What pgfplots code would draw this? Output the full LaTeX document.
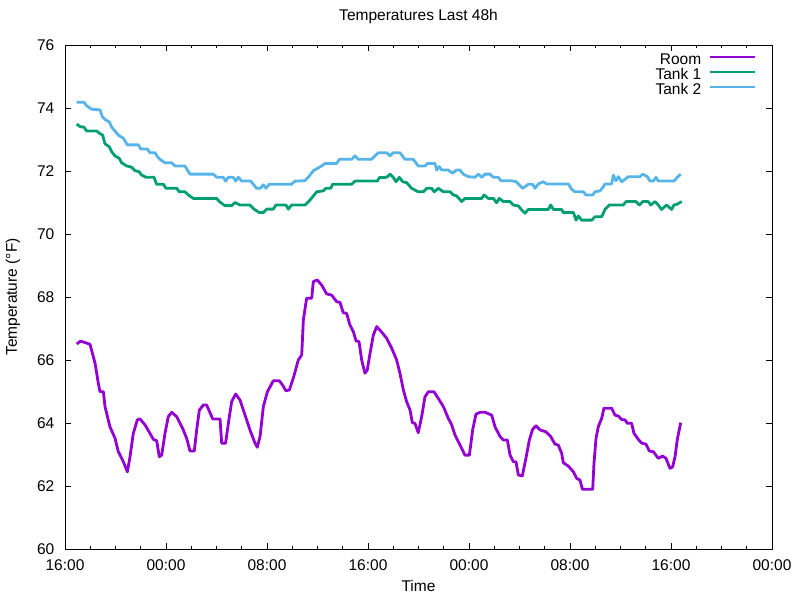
\documentclass[border=0pt]{standalone}
\usepackage{fontspec}
\setmainfont{Liberation Sans}
\usepackage{pgfplots}
\pgfplotsset{compat=1.18}
\definecolor{roomc}{HTML}{9400D3}
\definecolor{tankone}{HTML}{009E73}
\definecolor{tanktwo}{HTML}{56B4E9}
\begin{document}
\begin{tikzpicture}[font=\fontsize{15.5pt}{18pt}\selectfont]
\begin{axis}[
  scale only axis, width=707pt, height=504pt,
  at={(0,0)}, anchor=south west,
  xmin=0, xmax=56, ymin=60, ymax=76,
  xtick={0,8,...,56},
  xticklabels={16:00,00:00,08:00,16:00,00:00,08:00,16:00,00:00},
  minor x tick num=3,
  ytick={60,62,...,76},
  tick align=inside,
  major tick length=6pt, minor tick length=3pt,
  every tick/.style={black, line width=0.8pt},
  axis line style={black, line width=0.9pt},
  /pgf/number format/assume math mode=true,
  xticklabel style={anchor=base, yshift=-21pt, inner sep=0pt},
  yticklabel style={anchor=east, inner sep=0pt, xshift=-10.5pt},
  title={Temperatures Last 48h},
  title style={at={(axis description cs:0.5,1)}, anchor=base, yshift=18.3pt, inner sep=0pt},
  xlabel={Time},
  xlabel style={at={(axis description cs:0.5,0)}, anchor=base, yshift=-42.5pt, inner sep=0pt},
  ylabel={Temperature (°F)},
  ylabel style={at={(axis description cs:-0.0736,0.5)}, anchor=center, inner sep=0pt},
  legend plot pos=right,
  legend cell align=right,
  legend image code/.code={\draw[#1, line width=2.8pt] (0pt,3.5pt) -- (45pt,3.5pt);},
  legend style={draw=none, fill=none, inner sep=0pt, outer sep=0pt,
    at={(rel axis cs:1,1)}, anchor=north east, xshift=-16pt, yshift=-8pt,
    column sep=7pt, row sep=0pt,
    nodes={inner sep=0pt, text height=11.2pt, text depth=3.8pt}},
  line join=round,
]
\addplot[roomc, line width=2.8pt] coordinates {
(0.93,66.51)(1.24,66.6)(1.98,66.5)(2.38,65.9)(2.64,65.26)(2.77,65.0)(3.04,64.99)(3.17,64.52)(3.56,63.88)(3.96,63.52)(4.22,63.09)(4.62,62.77)(4.94,62.45)(5.15,62.93)(5.41,63.67)(5.73,64.1)(5.94,64.13)(6.34,63.94)(6.73,63.67)(7.0,63.48)(7.26,63.44)(7.47,62.93)(7.66,62.98)(7.92,63.67)(8.18,64.2)(8.45,64.34)(8.85,64.2)(9.37,63.78)(9.64,63.51)(9.9,63.11)(10.24,63.11)(10.43,63.78)(10.64,64.41)(10.96,64.57)(11.22,64.57)(11.7,64.13)(12.28,64.13)(12.41,63.36)(12.72,63.36)(12.94,63.99)(13.2,64.68)(13.52,64.92)(13.86,64.73)(14.26,64.25)(14.65,63.78)(15.05,63.36)(15.23,63.23)(15.45,63.57)(15.71,64.52)(16.03,64.99)(16.5,65.34)(16.98,65.34)(17.24,65.2)(17.5,65.02)(17.77,65.05)(18.08,65.42)(18.48,66.0)(18.75,66.16)(18.88,67.27)(19.14,67.96)(19.54,67.96)(19.67,68.49)(19.98,68.54)(20.33,68.38)(20.72,68.1)(21.12,68.06)(21.52,67.85)(21.78,67.83)(22.04,67.5)(22.31,67.48)(22.57,67.11)(22.84,66.9)(23.05,66.61)(23.29,66.58)(23.5,66.0)(23.76,65.58)(23.94,65.68)(24.16,66.21)(24.42,66.79)(24.69,67.06)(24.95,66.95)(25.48,66.69)(25.88,66.37)(26.27,66.0)(26.53,65.58)(26.8,65.05)(27.06,64.68)(27.33,64.41)(27.51,64.01)(27.72,63.99)(27.98,63.69)(28.25,64.2)(28.51,64.83)(28.78,64.99)(29.23,64.99)(29.57,64.78)(29.97,64.52)(30.36,64.15)(30.63,63.94)(30.89,63.62)(31.29,63.3)(31.68,62.98)(32.03,62.98)(32.29,63.78)(32.55,64.28)(32.87,64.34)(33.27,64.34)(33.8,64.25)(34.06,63.88)(34.46,63.57)(34.72,63.46)(35.04,63.46)(35.25,62.98)(35.51,62.77)(35.72,62.77)(35.91,62.35)(36.22,62.32)(36.51,62.88)(36.78,63.46)(37.04,63.8)(37.31,63.91)(37.62,63.78)(38.1,63.72)(38.47,63.57)(38.81,63.33)(39.07,63.3)(39.34,63.04)(39.47,62.74)(39.87,62.63)(40.27,62.45)(40.53,62.24)(40.79,62.19)(40.98,61.9)(41.8,61.9)(41.9,62.72)(42.06,63.51)(42.24,63.88)(42.51,64.15)(42.69,64.47)(43.3,64.47)(43.56,64.25)(43.83,64.22)(44.09,64.11)(44.36,64.1)(44.54,63.99)(44.88,63.99)(45.07,63.67)(45.41,63.48)(45.68,63.36)(46.02,63.33)(46.28,63.11)(46.6,63.09)(46.99,62.88)(47.34,62.95)(47.6,62.88)(47.92,62.56)(48.13,62.61)(48.32,62.93)(48.5,63.48)(48.77,64.01)
};
\addlegendentry{Room}
\addplot[tankone, line width=2.8pt] coordinates {
(0.93,73.49)(1.19,73.41)(1.5,73.39)(1.72,73.27)(2.51,73.27)(2.72,73.2)(2.98,73.14)(3.17,72.86)(3.51,72.77)(3.7,72.61)(3.96,72.48)(4.3,72.4)(4.49,72.26)(4.89,72.16)(5.28,72.12)(5.54,72.01)(5.86,71.98)(6.07,71.87)(6.42,71.8)(7.05,71.8)(7.26,71.58)(7.79,71.58)(8.0,71.45)(8.85,71.45)(9.05,71.34)(9.5,71.34)(9.77,71.24)(10.16,71.13)(12.01,71.13)(12.22,71.03)(12.67,70.9)(13.2,70.9)(13.47,71.0)(13.86,70.92)(14.65,70.92)(14.97,70.79)(15.39,70.68)(15.71,70.68)(15.97,70.79)(16.5,70.79)(16.71,70.92)(17.5,70.92)(17.69,70.79)(17.95,70.92)(19.01,70.92)(19.41,71.08)(19.94,71.34)(20.46,71.37)(20.67,71.45)(21.05,71.45)(21.2,71.58)(22.71,71.58)(22.97,71.68)(24.74,71.68)(24.9,71.79)(25.48,71.8)(25.74,71.9)(26.0,71.8)(26.22,71.66)(26.48,71.8)(26.75,71.66)(27.06,71.63)(27.46,71.45)(27.98,71.34)(28.38,71.34)(28.65,71.45)(29.04,71.45)(29.25,71.34)(29.57,71.45)(29.97,71.34)(30.5,71.34)(30.76,71.24)(31.02,71.21)(31.42,71.03)(31.68,71.13)(33.01,71.13)(33.19,71.24)(33.53,71.13)(33.93,71.13)(34.19,70.99)(34.4,71.13)(34.72,71.03)(35.25,71.03)(35.51,70.92)(35.91,70.89)(36.18,70.76)(36.44,70.66)(36.7,70.78)(38.28,70.78)(38.47,70.92)(38.68,70.78)(39.34,70.78)(39.47,70.68)(40.27,70.68)(40.48,70.44)(40.66,70.57)(40.93,70.44)(41.72,70.44)(41.98,70.55)(42.51,70.55)(42.77,70.78)(43.11,70.92)(44.22,70.92)(44.44,71.03)(45.23,71.03)(45.49,70.92)(45.76,71.03)(46.2,71.03)(46.39,70.92)(46.73,71.03)(46.99,70.92)(47.25,70.78)(47.65,70.92)(48.05,70.78)(48.23,70.92)(48.5,70.95)(48.85,71.03)
};
\addlegendentry{Tank 1}
\addplot[tanktwo, line width=2.8pt] coordinates {
(0.93,74.18)(1.5,74.18)(1.72,74.07)(2.11,73.96)(2.77,73.94)(2.96,73.72)(3.22,73.62)(3.51,73.56)(3.7,73.39)(4.22,73.14)(4.62,73.04)(4.94,72.83)(5.81,72.83)(6.0,72.7)(6.52,72.7)(6.73,72.58)(7.13,72.58)(7.31,72.46)(7.52,72.37)(7.92,72.26)(8.45,72.26)(8.71,72.16)(9.5,72.16)(9.9,71.9)(11.75,71.9)(12.01,71.8)(12.54,71.8)(12.72,71.68)(12.94,71.8)(13.33,71.8)(13.52,71.68)(13.73,71.8)(14.0,71.68)(14.71,71.68)(15.18,71.45)(15.45,71.45)(15.71,71.56)(15.92,71.45)(16.18,71.58)(17.95,71.58)(18.22,71.68)(19.01,71.69)(19.41,71.87)(19.67,72.01)(20.07,72.1)(20.33,72.16)(20.59,72.24)(21.52,72.24)(21.73,72.37)(22.71,72.37)(22.97,72.48)(23.23,72.37)(24.29,72.37)(24.55,72.48)(24.82,72.58)(25.48,72.58)(25.74,72.48)(26.0,72.58)(26.53,72.58)(26.93,72.37)(27.59,72.37)(27.98,72.16)(28.51,72.16)(28.7,72.24)(29.31,72.24)(29.44,72.03)(29.65,72.14)(29.84,72.03)(30.36,72.03)(30.68,71.93)(31.02,72.03)(31.29,72.03)(31.55,71.9)(31.94,71.82)(32.48,71.8)(32.74,71.9)(33.01,71.8)(33.27,71.9)(33.66,71.9)(33.93,71.8)(34.32,71.8)(34.53,71.69)(35.38,71.69)(35.72,71.66)(35.91,71.59)(36.26,71.45)(36.7,71.58)(37.04,71.58)(37.23,71.45)(37.49,71.59)(37.89,71.66)(38.15,71.59)(39.87,71.59)(40.13,71.42)(40.4,71.34)(41.05,71.34)(41.27,71.24)(41.8,71.24)(41.98,71.34)(42.38,71.37)(42.64,71.5)(42.77,71.59)(43.3,71.59)(43.43,71.87)(43.64,71.69)(43.83,71.82)(44.09,71.66)(44.36,71.74)(44.62,71.82)(45.54,71.82)(45.76,71.9)(46.12,71.82)(46.34,71.68)(46.6,71.68)(46.81,71.8)(46.99,71.68)(48.23,71.68)(48.5,71.8)(48.77,71.9)
};
\addlegendentry{Tank 2}
\coordinate (sw) at (rel axis cs:0,0);
\end{axis}
\pgfresetboundingbox
\path[use as bounding box] (sw) ++(-65pt,-51pt) rectangle ++(800pt,600pt);
\end{tikzpicture}
\end{document}
